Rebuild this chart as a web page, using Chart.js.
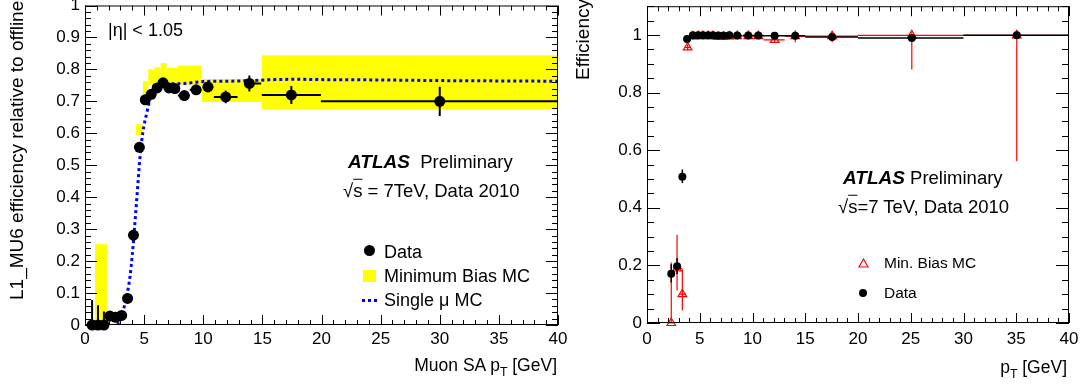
<!DOCTYPE html>
<html>
<head>
<meta charset="utf-8">
<script src="https://cdn.jsdelivr.net/npm/chart.js@4.4.1/dist/chart.umd.min.js"></script>
<style>
body { margin: 0; background: #fff; width: 1083px; height: 387px; overflow: hidden; position: relative;
       font-family: "Liberation Sans", Arial, sans-serif; color: #000; }
.pane { position: absolute; top: 0; height: 387px; }
.t { position: absolute; white-space: nowrap; line-height: 1; transform: translateY(-50%); }
.rot { position: absolute; white-space: nowrap; line-height: 20px; font-size: 19px; transform-origin: 0 0; transform: rotate(-90deg); }
.ov { text-decoration: overline; }
sub { font-size: 70%; vertical-align: -0.4em; line-height: 0; }
.bi { font-weight: bold; font-style: italic; font-size: 19px; }
</style>
</head>
<body>
<div class="pane" style="left:0;width:575px"><canvas id="leftChart" width="575" height="387"></canvas></div>
<div class="pane" style="left:560px;width:523px"><canvas id="rightChart" width="523" height="387"></canvas></div>

<!-- left panel texts -->
<div class="rot" style="left:7px;top:300px">L1_MU6 efficiency relative to offline</div>
<div class="t" style="right:526px;top:366px;font-size:17.5px">Muon SA p<sub>T</sub> [GeV]</div>
<div class="t" style="left:108px;top:30px;font-size:18px">|η| &lt; 1.05</div>
<div class="t" style="left:348px;top:162px;font-size:18.5px"><span class="bi">ATLAS</span>&nbsp;&nbsp;Preliminary</div>
<div class="t" style="left:343px;top:191px;font-size:18.5px">√<span class="ov">s</span> = 7TeV, Data 2010</div>
<div style="position:absolute;left:364px;top:245px;width:11px;height:11px;border-radius:50%;background:#000"></div>
<div class="t" style="left:384px;top:252px;font-size:18px">Data</div>
<div style="position:absolute;left:363px;top:270px;width:13px;height:12px;background:#ffff00"></div>
<div class="t" style="left:384px;top:276px;font-size:18px">Minimum Bias MC</div>
<div style="position:absolute;left:362px;top:299px;width:15px;height:3px;background:repeating-linear-gradient(90deg,#0000ff 0 3px,transparent 3px 6px)"></div>
<div class="t" style="left:384px;top:300px;font-size:18px">Single μ MC</div>

<!-- right panel texts -->
<div class="rot" style="left:573px;top:80px">Efficiency</div>
<div class="t" style="right:16px;top:368px;font-size:17.5px">p<sub>T</sub> [GeV]</div>
<div class="t" style="left:843px;top:178px;font-size:18.5px"><span class="bi">ATLAS</span>&nbsp;Preliminary</div>
<div class="t" style="left:838px;top:207px;font-size:18.5px">√<span class="ov">s</span>=7 TeV, Data 2010</div>
<svg style="position:absolute;left:858px;top:258px" width="11" height="10"><polygon points="5.5,1 10,9 1,9" fill="none" stroke="#ff0000" stroke-width="1.2"/></svg>
<div class="t" style="left:884px;top:263px;font-size:15.5px">Min. Bias MC</div>
<div style="position:absolute;left:859px;top:289px;width:8px;height:8px;border-radius:50%;background:#000"></div>
<div class="t" style="left:884px;top:293px;font-size:15.5px">Data</div>

<script>
// ---- left panel: L1_MU6 efficiency vs muon SA pT ----
const leftPtX  = [0.6, 1.1, 1.6, 2.1, 2.6, 3.1, 3.6, 4.1, 4.6, 5.1, 5.6, 6.1, 6.6, 7.1, 7.6, 8.4, 9.4, 10.4, 11.9, 13.9, 17.45, 30];
const leftPtY  = [0, 0, 0, 0.028, 0.024, 0.030, 0.083, 0.281, 0.556, 0.705, 0.722, 0.742, 0.758, 0.742, 0.740, 0.718, 0.736, 0.745, 0.714, 0.756, 0.720, 0.700];
const leftYLo  = [0, 0, 0, 0.018, 0.014, 0.020, 0.073, 0.269, 0.544, 0.695, 0.712, 0.732, 0.748, 0.732, 0.730, 0.706, 0.724, 0.729, 0.694, 0.731, 0.692, 0.654];
const leftYHi  = [0.078, 0.062, 0.042, 0.038, 0.034, 0.040, 0.093, 0.293, 0.568, 0.715, 0.732, 0.752, 0.768, 0.752, 0.750, 0.730, 0.748, 0.761, 0.734, 0.781, 0.748, 0.746];
const leftBinLo = [0.35, 0.85, 1.35, 1.85, 2.35, 2.85, 3.35, 3.85, 4.35, 4.85, 5.35, 5.85, 6.35, 6.85, 7.35, 7.85, 8.85, 9.95, 10.9, 13.45, 14.95, 19.95];
const leftBinHi = [0.85, 1.35, 1.85, 2.35, 2.85, 3.35, 3.85, 4.35, 4.85, 5.35, 5.85, 6.35, 6.85, 7.35, 7.85, 8.85, 9.85, 10.85, 12.9, 14.9, 19.95, 40];

// minimum bias MC band (yellow boxes)
const mbBinLo = [0.85, 1.85, 3.9, 4.3, 4.9, 5.35, 5.85, 6.4, 6.9, 7.85, 9.9, 14.95];
const mbBinHi = [1.85, 3.1, 4.3, 4.9, 5.35, 5.85, 6.4, 6.9, 7.85, 9.85, 14.95, 40];
const mbLo    = [0, 0.02, 0.265, 0.594, 0.70, 0.752, 0.752, 0.752, 0.752, 0.752, 0.698, 0.675];
const mbHi    = [0.253, 0.042, 0.30, 0.628, 0.763, 0.80, 0.807, 0.82, 0.805, 0.812, 0.77, 0.844];

// single muon MC curve
const smuX = [2.75, 3.0, 3.3, 3.55, 3.8, 4.0, 4.2, 4.45, 4.65, 4.9, 5.2, 5.45, 5.65, 6.0, 6.5, 7.0, 7.5, 8.0, 9.0, 10, 12, 14, 16, 18, 20, 25, 30, 35, 40];
const smuY = [0.0, 0.025, 0.055, 0.095, 0.15, 0.22, 0.31, 0.43, 0.525, 0.605, 0.66, 0.70, 0.725, 0.74, 0.75, 0.755, 0.755, 0.755, 0.758, 0.762, 0.763, 0.765, 0.768, 0.769, 0.768, 0.767, 0.765, 0.764, 0.763];

// ---- right panel: efficiency vs pT ----
const rightPtX = [2.3, 2.85, 3.35, 3.8, 4.35, 4.85, 5.3, 5.8, 6.25, 6.75, 7.25, 7.8, 8.55, 9.6, 10.55, 12.1, 14.05, 17.55, 25.1, 35.05];
const rightPtY = [0.171, 0.197, 0.508, 0.986, 0.999, 0.999, 0.999, 0.999, 0.999, 0.998, 0.998, 0.999, 0.998, 0.998, 0.998, 0.997, 0.997, 0.993, 0.990, 0.999];
const rightYLo = [0.141, 0.170, 0.486, 0.980, 0.996, 0.996, 0.996, 0.996, 0.996, 0.995, 0.995, 0.996, 0.995, 0.995, 0.995, 0.993, 0.991, 0.987, 0.982, 0.995];
const rightYHi = [0.204, 0.226, 0.533, 0.992, 1.002, 1.002, 1.002, 1.002, 1.002, 1.001, 1.001, 1.002, 1.001, 1.001, 1.001, 1.001, 1.003, 0.999, 0.998, 1.003];
const rightBinLo = [2.05, 2.6, 3.1, 3.55, 4.1, 4.6, 5.05, 5.55, 6.0, 6.5, 7.0, 7.55, 8.05, 9.1, 10.05, 11.05, 13.05, 15, 20, 30];
const rightBinHi = [2.55, 3.1, 3.6, 4.05, 4.6, 5.1, 5.55, 6.05, 6.5, 7.0, 7.5, 8.05, 9.05, 10.1, 11.05, 13.05, 15, 20, 30, 40];

const mcPtX = [2.3, 2.85, 3.35, 3.85, 4.35, 4.85, 5.3, 5.8, 6.25, 6.75, 7.25, 7.8, 8.55, 9.6, 10.55, 12.1, 14.05, 17.55, 25.1, 35.05];
const mcPtY = [0, 0.19, 0.10, 0.957, 0.995, 0.996, 0.996, 0.996, 0.996, 0.993, 0.993, 0.995, 0.996, 0.996, 0.996, 0.983, 0.996, 0.996, 0.999, 0.999];
const mcYLo = [0, 0.113, 0.044, 0.947, 0.99, 0.99, 0.99, 0.99, 0.99, 0.985, 0.985, 0.988, 0.99, 0.99, 0.99, 0.973, 0.975, 0.975, 0.88, 0.562];
const mcYHi = [0.21, 0.306, 0.187, 0.967, 1.0, 1.0, 1.0, 1.0, 1.0, 1.0, 1.0, 1.0, 1.0, 1.0, 1.0, 0.993, 1.01, 1.01, 1.01, 1.01];
const mcBinLo = [2.05, 2.5, 3.1, 3.6, 4.1, 4.6, 5.05, 5.55, 6.0, 6.5, 7.0, 7.55, 8.05, 9.1, 10.05, 11.05, 13.05, 15, 20, 30];
const mcBinHi = [2.55, 3.35, 3.6, 4.1, 4.6, 5.1, 5.55, 6.05, 6.5, 7.0, 7.5, 8.05, 9.05, 10.1, 11.05, 13.05, 15, 20, 30, 40];

const FONT = '"Liberation Sans", Arial, sans-serif';

const toPoints = (xs, ys) => xs.map((x, i) => ({ x: x, y: ys[i] }));

// error bars drawn right before the dataset they belong to
const errorBars = {
    id: 'errorBars',
    beforeDatasetDraw(chart, args) {
        const ds = chart.data.datasets[args.index];
        if (!ds.err) return;
        const { ctx, scales: { x, y } } = chart;
        ctx.save();
        ctx.strokeStyle = ds.err.color;
        ctx.lineWidth = ds.err.width;
        ctx.beginPath();
        ds.data.forEach((p, i) => {
            const px = x.getPixelForValue(p.x);
            const py = y.getPixelForValue(p.y);
            ctx.moveTo(x.getPixelForValue(ds.err.xLo[i]), py);
            ctx.lineTo(x.getPixelForValue(ds.err.xHi[i]), py);
            ctx.moveTo(px, y.getPixelForValue(ds.err.yLo[i]));
            ctx.lineTo(px, y.getPixelForValue(ds.err.yHi[i]));
        });
        ctx.stroke();
        ctx.restore();
    }
};

// filled boxes for the MC band
const bandBoxes = {
    id: 'bandBoxes',
    beforeDatasetsDraw(chart, args, opts) {
        if (!opts.xLo) return;
        const { ctx, chartArea: a, scales: { x, y } } = chart;
        ctx.save();
        ctx.beginPath();
        ctx.rect(a.left, a.top, a.width, a.height);
        ctx.clip();
        ctx.fillStyle = opts.color;
        opts.xLo.forEach((lo, i) => {
            const x0 = x.getPixelForValue(lo), x1 = x.getPixelForValue(opts.xHi[i]);
            const y0 = y.getPixelForValue(opts.yHi[i]), y1 = y.getPixelForValue(opts.yLo[i]);
            ctx.fillRect(x0, y0, x1 - x0, y1 - y0);
        });
        ctx.restore();
    }
};

// ROOT style frame with inward ticks on all four sides
const rootFrame = {
    id: 'rootFrame',
    afterDatasetsDraw(chart, args, o) {
        const { ctx, chartArea: a, scales: { x, y } } = chart;
        ctx.save();
        ctx.strokeStyle = '#000';
        ctx.lineWidth = 1;
        ctx.strokeRect(a.left + 0.5, a.top + 0.5, a.width - 1, a.height - 1);
        ctx.beginPath();
        const nx = Math.round((x.max - x.min) / o.xMinor);
        for (let i = 0; i <= nx; i++) {
            const v = x.min + i * o.xMinor;
            const len = (i % o.xEvery === 0) ? o.xMajorLen : o.xMinorLen;
            const px = Math.round(x.getPixelForValue(v)) + 0.5;
            ctx.moveTo(px, a.bottom); ctx.lineTo(px, a.bottom - len);
            ctx.moveTo(px, a.top); ctx.lineTo(px, a.top + len);
        }
        const ny = Math.floor((y.max - y.min) / o.yMinor + 1e-6);
        for (let i = 0; i <= ny; i++) {
            const v = y.min + i * o.yMinor;
            const len = (i % o.yEvery === 0) ? o.yMajorLen : o.yMinorLen;
            const py = Math.round(y.getPixelForValue(v)) + 0.5;
            ctx.moveTo(a.left, py); ctx.lineTo(a.left + len, py);
            ctx.moveTo(a.right, py); ctx.lineTo(a.right - len, py);
        }
        ctx.stroke();
        ctx.restore();
    }
};

function axes(yMax, yStep, xH, yW, xPad) {
    return {
        x: {
            type: 'linear', min: 0, max: 40,
            grid: { display: false, drawTicks: false }, border: { display: false },
            ticks: { stepSize: 5, padding: xPad, color: '#000', autoSkip: false, maxRotation: 0,
                     font: { family: FONT, size: 17 } },
            afterFit(s) { s.height = xH; s.paddingLeft = 0; s.paddingRight = 0; }
        },
        y: {
            type: 'linear', min: 0, max: yMax,
            grid: { display: false, drawTicks: false }, border: { display: false },
            ticks: { stepSize: yStep, padding: 5, color: '#000', autoSkip: false, includeBounds: false,
                     font: { family: FONT, size: 17 },
                     callback: (v) => String(parseFloat(v.toFixed(2))) },
            afterFit(s) { s.width = yW; s.paddingTop = 0; s.paddingBottom = 0; }
        }
    };
}

new Chart(document.getElementById('leftChart'), {
    type: 'scatter',
    data: {
        datasets: [
            {
                label: 'Data',
                data: toPoints(leftPtX, leftPtY),
                backgroundColor: '#000', borderWidth: 0,
                pointRadius: 5.5, pointHoverRadius: 5.5, clip: false, order: 0,
                err: { xLo: leftBinLo, xHi: leftBinHi, yLo: leftYLo, yHi: leftYHi, color: '#000', width: 2 }
            },
            {
                label: 'Single μ MC',
                data: toPoints(smuX, smuY),
                showLine: true, pointRadius: 0, pointHoverRadius: 0,
                borderColor: '#0000ff', borderWidth: 3, borderDash: [3, 3],
                cubicInterpolationMode: 'monotone', order: 1
            }
        ]
    },
    options: {
        responsive: false, animation: false, events: [],
        layout: { padding: { left: 0, right: 17, top: 5, bottom: 0 } },
        scales: axes(1, 0.1, 62, 85, 4),
        plugins: {
            legend: { display: false }, tooltip: { enabled: false },
            bandBoxes: { xLo: mbBinLo, xHi: mbBinHi, yLo: mbLo, yHi: mbHi, color: '#ffff00' },
            rootFrame: { xMinor: 1, xEvery: 5, yMinor: 0.02, yEvery: 5,
                         xMajorLen: 10, xMinorLen: 5, yMajorLen: 12, yMinorLen: 6 }
        }
    },
    plugins: [bandBoxes, errorBars, rootFrame]
});

new Chart(document.getElementById('rightChart'), {
    type: 'scatter',
    data: {
        datasets: [
            {
                label: 'Data',
                data: toPoints(rightPtX, rightPtY),
                backgroundColor: '#000', borderWidth: 0,
                pointRadius: 4, pointHoverRadius: 4, clip: false, order: 0,
                err: { xLo: rightBinLo, xHi: rightBinHi, yLo: rightYLo, yHi: rightYHi, color: '#000', width: 1.5 }
            },
            {
                label: 'Min. Bias MC',
                data: toPoints(mcPtX, mcPtY),
                pointStyle: 'triangle', pointRadius: 5, pointHoverRadius: 5,
                borderColor: '#ff0000', borderWidth: 1.2, backgroundColor: 'rgba(0,0,0,0)',
                clip: false, order: 1,
                err: { xLo: mcBinLo, xHi: mcBinHi, yLo: mcYLo, yHi: mcYHi, color: '#ff0000', width: 1.2 }
            }
        ]
    },
    options: {
        responsive: false, animation: false, events: [],
        layout: { padding: { left: 0, right: 14, top: 2, bottom: 0 } },
        scales: axes(1.1, 0.2, 64, 87, 6),
        plugins: {
            legend: { display: false }, tooltip: { enabled: false },
            rootFrame: { xMinor: 1, xEvery: 5, yMinor: 0.05, yEvery: 4,
                         xMajorLen: 10, xMinorLen: 5, yMajorLen: 13, yMinorLen: 7 }
        }
    },
    plugins: [errorBars, rootFrame]
});
</script>
</body>
</html>
